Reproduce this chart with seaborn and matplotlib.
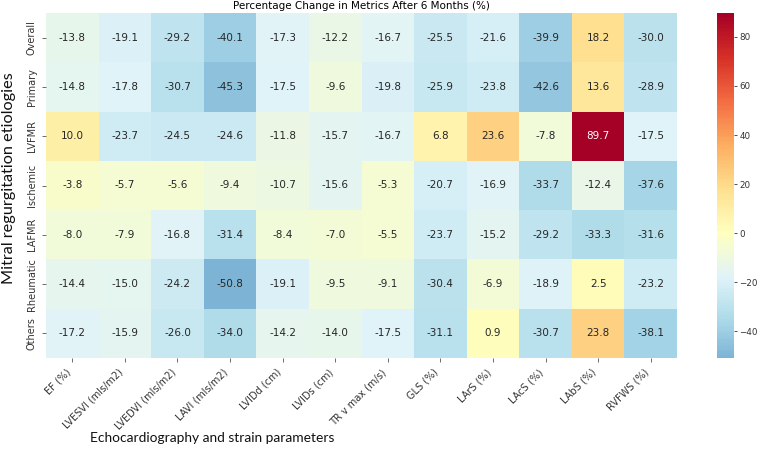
import numpy as np
import pandas as pd
import matplotlib
matplotlib.use("Agg")
import matplotlib.pyplot as plt
import seaborn as sns

columns = ["EF (%)", "LVESVI (mls/m2)", "LVEDVI (mls/m2)", "LAVI (mls/m2)", "LVIDd (cm)",
           "LVIDs (cm)", "TR v max (m/s)", "GLS (%)", "LArS (%)", "LAcS (%)", "LAbS (%)", "RVFWS (%)"]
rows = ["Overall", "Primary", "LVFMR", "Ischemic", "LAFMR", "Rheumatic", "Others"]

overall   = [-13.8, -19.1, -29.2, -40.1, -17.3, -12.2, -16.7, -25.5, -21.6, -39.9, 18.2, -30.0]
primary   = [-14.8, -17.8, -30.7, -45.3, -17.5, -9.6, -19.8, -25.9, -23.8, -42.6, 13.6, -28.9]
lvfmr     = [10.0, -23.7, -24.5, -24.6, -11.8, -15.7, -16.7, 6.8, 23.6, -7.8, 89.7, -17.5]
ischemic  = [-3.8, -5.7, -5.6, -9.4, -10.7, -15.6, -5.3, -20.7, -16.9, -33.7, -12.4, -37.6]
lafmr     = [-8.0, -7.9, -16.8, -31.4, -8.4, -7.0, -5.5, -23.7, -15.2, -29.2, -33.3, -31.6]
rheumatic = [-14.4, -15.0, -24.2, -50.8, -19.1, -9.5, -9.1, -30.4, -6.9, -18.9, 2.5, -23.2]
others    = [-17.2, -15.9, -26.0, -34.0, -14.2, -14.0, -17.5, -31.1, 0.9, -30.7, 23.8, -38.1]

df = pd.DataFrame([overall, primary, lvfmr, ischemic, lafmr, rheumatic, others],
                  index=rows, columns=columns)

fig = plt.figure(figsize=(7.6, 4.51), dpi=100)
ax = fig.add_axes([46/760, 1 - 358/451, (677-46)/760, (358-13)/451])
cax = fig.add_axes([717/760, 1 - 358/451, (734-717)/760, (358-13)/451])

sns.heatmap(df, ax=ax, cbar_ax=cax, cmap="RdYlBu_r", center=0, annot=True, fmt=".1f",
            annot_kws={"fontsize": 7.5})
ax.set_title("Percentage Change in Metrics After 6 Months (%)", fontsize=7.5, pad=3)
ax.set_xticklabels(ax.get_xticklabels(), rotation=45, ha="right", fontsize=7, color="#333333")
ax.set_yticklabels(ax.get_yticklabels(), rotation=90, va="center", fontsize=7, color="#333333")
ax.tick_params(length=3, width=0.6, color="#555555")
ax.set_xlabel("")
ax.set_ylabel("")
cax.tick_params(labelsize=6.3, length=2.5, width=0.6, pad=1.5, colors="#333333")
for s in cax.spines.values():
    s.set_visible(False)

fig.text(90/760, 1 - 438/451, "Echocardiography and strain parameters", fontsize=9.9,
         va="center", ha="left", color="#111111", family="Lato")
fig.text(9/760, 1 - 178/451, "Mitral regurgitation etiologies", fontsize=11.7, rotation=90,
         va="center", ha="center", color="#111111", family="Lato")

fig.savefig("out.png", dpi=100)
